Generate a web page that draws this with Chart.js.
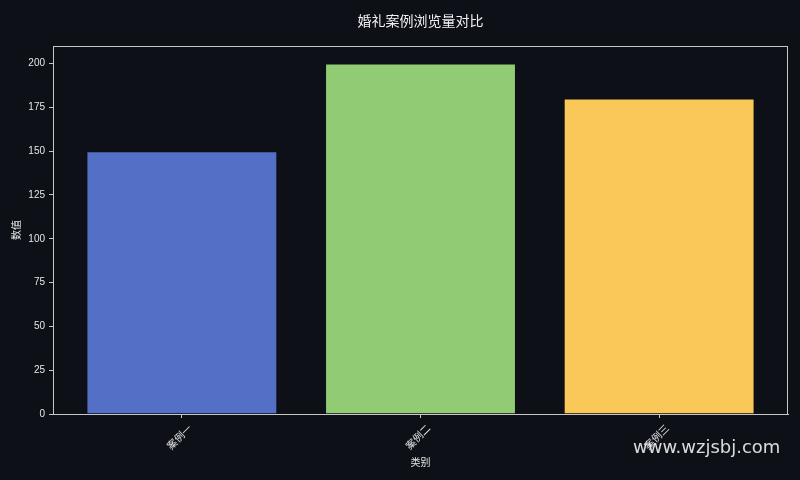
<!DOCTYPE html>
<html>
<head>
<meta charset="utf-8">
<script src="https://cdn.jsdelivr.net/npm/chart.js@4.4.1/dist/chart.umd.min.js"></script>
<style>
  html, body { margin: 0; padding: 0; background: #0d1017; }
  #wrap { position: relative; width: 800px; height: 480px; }
  #watermark {
    position: absolute; left: 633px; top: 436px;
    font-family: "DejaVu Sans", "Noto Sans", sans-serif; font-size: 18px;
    color: rgba(235,235,235,0.92); white-space: nowrap;
  }
</style>
</head>
<body>
<div id="wrap">
  <canvas id="c" width="800" height="480"></canvas>
  <div id="watermark">www.wzjsbj.com</div>
</div>
<script>
const titleText = "婚礼案例浏览量对比";
const categories = ["案例一", "案例二", "案例三"];
const values = [150, 200, 180];
const barColors = ["#5470c6", "#91cc75", "#fac858"];
const yTicks = [0, 25, 50, 75, 100, 125, 150, 175, 200];
const xTitle = "类别";
const yTitle = "数值";

const FONT = '"Liberation Sans", "Noto Sans CJK SC", sans-serif';
const CJK = '"Noto Sans CJK SC", "DejaVu Sans", sans-serif';
const TEXT = "#e6e6e6";
const AXIS = "#c8c8c8";

const frame = {
  id: "frame",
  afterDraw(chart) {
    const a = chart.chartArea, ctx = chart.ctx;
    ctx.save();
    ctx.strokeStyle = AXIS;
    ctx.lineWidth = 1;
    ctx.strokeRect(a.left + 0.5, a.top + 0.5, a.right - a.left - 1, a.bottom - a.top);
    ctx.restore();
  }
};

new Chart(document.getElementById("c"), {
  type: "bar",
  data: {
    datasets: [{
      data: categories.map((c, i) => ({ x: i, y: values[i] })),
      backgroundColor: barColors,
      borderColor: "rgba(13,16,23,0.45)",
      borderWidth: 1,
      barPercentage: 0.8,
      categoryPercentage: 1.0
    }]
  },
  plugins: [frame],
  options: {
    responsive: false,
    animation: false,
    layout: { padding: { left: 0, right: 12, top: 0, bottom: 0 } },
    plugins: {
      legend: { display: false },
      tooltip: { enabled: false },
      title: {
        display: true, text: titleText, fullSize: false,
        color: "#f0f0f0",
        font: { family: CJK, size: 14, weight: "normal" },
        padding: { top: 12, bottom: 17.2 }
      }
    },
    scales: {
      x: {
        type: "linear",
        offset: false,
        min: -0.54, max: 2.54,
        afterBuildTicks: s => { s.ticks = categories.map((c, i) => ({ value: i })); },
        afterFit: s => { s.height = 66; },
        ticks: {
          callback: v => categories[v],
          color: TEXT, autoSkip: false, minRotation: 45, maxRotation: 45,
          labelOffset: 8, padding: 4,
          font: { family: CJK, size: 10 }
        },
        grid: { offset: false, drawOnChartArea: false, drawTicks: true, tickLength: 4, tickColor: AXIS },
        border: { display: true, color: AXIS },
        title: {
          display: true, text: xTitle, color: TEXT,
          font: { family: CJK, size: 10 }, padding: { top: 0, bottom: 12 }
        }
      },
      y: {
        min: 0, max: 210,
        afterBuildTicks: s => { s.ticks = yTicks.map(v => ({ value: v })); },
        afterFit: s => { s.width = 53; },
        ticks: {
          color: TEXT, padding: 4,
          font: { family: FONT, size: 10 }
        },
        grid: { drawOnChartArea: false, drawTicks: true, tickLength: 4, tickColor: AXIS },
        border: { display: true, color: AXIS },
        title: {
          display: true, text: yTitle, color: TEXT,
          font: { family: CJK, size: 10 }, padding: { top: 10, bottom: 0 }
        }
      }
    }
  }
});
</script>
</body>
</html>
